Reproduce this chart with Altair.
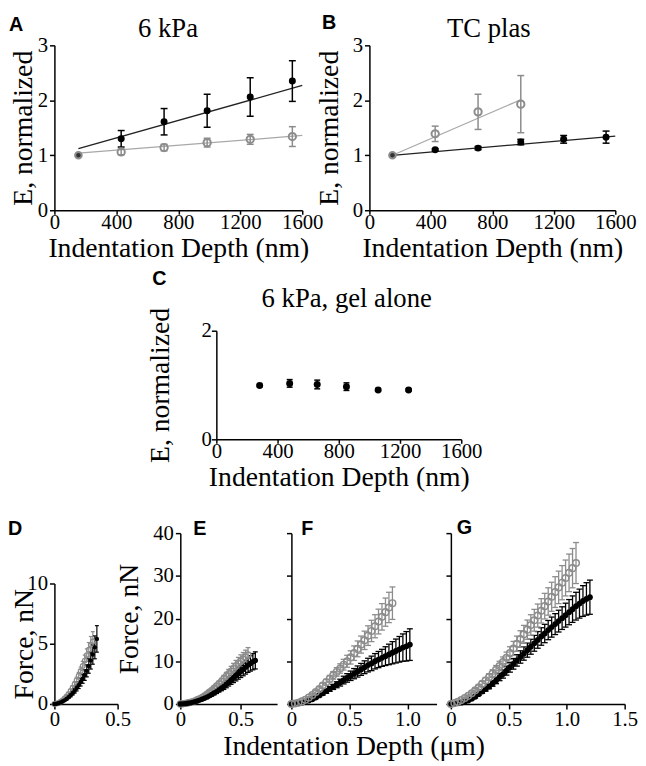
import altair as alt
import pandas as pd

SERIF = "Liberation Serif"
SANS = "Liberation Sans"
BLACK = "#000000"
GRAY = "#8c8c8c"
GRAY_LINE = "#a8a8a8"
DARK_LINE = "#222222"

# ---------------- Panel A: 6 kPa ----------------
a_depth = [431, 708, 986, 1264, 1536]
a_black = [1.30, 1.61, 1.81, 2.06, 2.35]
a_black_err = [0.15, 0.24, 0.30, 0.35, 0.37]
a_gray = [1.06, 1.14, 1.23, 1.29, 1.34]
a_gray_err = [0.05, 0.06, 0.08, 0.09, 0.18]
a_ref_depth = [155]
a_ref_E = [1.0]
a_fit_depth = [155, 1600]
a_fit_black = [1.12, 2.27]
a_fit_gray = [1.04, 1.36]

# ---------------- Panel B: TC plas ----------------
b_black_depth = [428, 707, 985, 1264, 1540]
b_black = [1.10, 1.13, 1.24, 1.29, 1.33]
b_black_err = [0.02, 0.03, 0.05, 0.07, 0.11]
b_gray_depth = [428, 707, 985]
b_gray = [1.39, 1.79, 1.93]
b_gray_err = [0.14, 0.32, 0.52]
b_ref_depth = [150]
b_ref_E = [1.0]
b_fit_black_depth = [150, 1600]
b_fit_black = [1.0, 1.35]
b_fit_gray_depth = [150, 985]
b_fit_gray = [1.0, 2.01]

# ---------------- Panel C: 6 kPa, gel alone ----------------
c_depth = [283, 479, 659, 850, 1057, 1256]
c_E = [0.99, 1.03, 1.01, 0.97, 0.91, 0.91]
c_err = [0.02, 0.07, 0.08, 0.07, 0.02, 0.02]

# ---------------- Panel D ----------------
d_black_x = [0, 0.016, 0.032, 0.048, 0.064, 0.08, 0.096, 0.112, 0.128, 0.144, 0.16,
             0.176, 0.192, 0.208, 0.224, 0.24, 0.256, 0.272, 0.288, 0.304, 0.32, 0.336]
d_black_y = [0, 0.02, 0.06, 0.12, 0.2, 0.3, 0.42, 0.56, 0.72, 0.9, 1.1, 1.32, 1.56,
             1.82, 2.1, 2.4, 2.75, 3.15, 3.6, 4.1, 4.7, 5.4]
d_black_err = [0, 0, 0, 0.02, 0.04, 0.06, 0.08, 0.1, 0.13, 0.16, 0.2, 0.24, 0.28,
               0.33, 0.38, 0.44, 0.5, 0.6, 0.7, 0.8, 0.95, 1.1]
d_gray_x = [0, 0.016, 0.032, 0.048, 0.064, 0.08, 0.096, 0.112, 0.128, 0.144, 0.16,
            0.176, 0.192, 0.208, 0.224, 0.24, 0.256, 0.272, 0.288, 0.304]
d_gray_y = [0, 0.03, 0.09, 0.18, 0.3, 0.45, 0.63, 0.84, 1.08, 1.35, 1.65, 1.98, 2.34,
            2.73, 3.15, 3.6, 4.05, 4.5, 4.9, 5.2]
d_gray_err = [0, 0, 0, 0.02, 0.04, 0.06, 0.08, 0.1, 0.13, 0.16, 0.2, 0.24, 0.28,
              0.33, 0.38, 0.45, 0.52, 0.6, 0.7, 0.8]

# ---------------- Panel E ----------------
e_gray_x = [0, 0.02, 0.04, 0.06, 0.08, 0.10, 0.12, 0.14, 0.16, 0.18, 0.20, 0.22, 0.24,
            0.26, 0.28, 0.30, 0.32, 0.34, 0.36, 0.38, 0.40, 0.42, 0.44, 0.46, 0.48,
            0.50, 0.52, 0.54, 0.56]
e_gray_y = [0, 0.05, 0.12, 0.22, 0.36, 0.53, 0.74, 0.98, 1.25, 1.55, 1.9, 2.3, 2.75,
            3.2, 3.7, 4.2, 4.75, 5.3, 5.9, 6.5, 7.1, 7.7, 8.3, 8.9, 9.5, 10.0, 10.5,
            11.0, 11.5]
e_gray_err = [0, 0, 0, 0.02, 0.04, 0.06, 0.08, 0.1, 0.15, 0.2, 0.25, 0.3, 0.35, 0.4,
              0.45, 0.5, 0.6, 0.7, 0.8, 0.9, 1.0, 1.1, 1.2, 1.3, 1.4, 1.5, 1.55, 1.6, 1.7]
e_black_x = [0, 0.02, 0.04, 0.06, 0.08, 0.10, 0.12, 0.14, 0.16, 0.18, 0.20, 0.22, 0.24,
             0.26, 0.28, 0.30, 0.32, 0.34, 0.36, 0.38, 0.40, 0.42, 0.44, 0.46, 0.48,
             0.50, 0.52, 0.54, 0.56, 0.58, 0.60, 0.62]
e_black_y = [0, 0.03, 0.08, 0.15, 0.25, 0.38, 0.53, 0.7, 0.9, 1.1, 1.35, 1.6, 1.9, 2.2,
             2.55, 2.9, 3.3, 3.7, 4.1, 4.6, 5.1, 5.6, 6.1, 6.6, 7.1, 7.6, 8.1, 8.6, 9.1,
             9.5, 9.9, 10.2]
e_black_err = [0, 0, 0, 0, 0.02, 0.04, 0.06, 0.08, 0.1, 0.15, 0.2, 0.25, 0.3, 0.35, 0.4,
               0.45, 0.5, 0.6, 0.7, 0.8, 0.9, 1.0, 1.1, 1.2, 1.3, 1.4, 1.5, 1.6, 1.7,
               1.8, 1.9, 2.0]

# ---------------- Panel F ----------------
f_gray_x = [0, 0.03, 0.06, 0.09, 0.12, 0.15, 0.18, 0.21, 0.24, 0.27, 0.30, 0.33, 0.36,
            0.39, 0.42, 0.45, 0.48, 0.51, 0.54, 0.57, 0.60, 0.63, 0.66, 0.69, 0.72,
            0.75, 0.78, 0.81, 0.84, 0.87]
f_gray_y = [0, 0.1, 0.3, 0.6, 1.0, 1.5, 2.1, 2.8, 3.5, 4.3, 5.1, 5.9, 6.7, 7.5, 8.3, 9.2,
            10.0, 10.9, 11.9, 12.9, 13.9, 14.9, 16.0, 17.1, 18.2, 19.3, 20.4, 21.5,
            22.6, 23.6]
f_gray_err = [0, 0, 0.05, 0.1, 0.15, 0.2, 0.3, 0.4, 0.5, 0.6, 0.7, 0.8, 0.9, 1.0, 1.1,
              1.25, 1.4, 1.55, 1.7, 1.85, 2.0, 2.15, 2.3, 2.5, 2.7, 2.9, 3.1, 3.3, 3.55, 3.8]
f_black_x = [0, 0.03, 0.06, 0.09, 0.12, 0.15, 0.18, 0.21, 0.24, 0.27, 0.30, 0.33, 0.36,
             0.39, 0.42, 0.45, 0.48, 0.51, 0.54, 0.57, 0.60, 0.63, 0.66, 0.69, 0.72,
             0.75, 0.78, 0.81, 0.84, 0.87, 0.90, 0.93, 0.96, 0.99, 1.02]
f_black_y = [0, 0.05, 0.15, 0.3, 0.5, 0.8, 1.1, 1.5, 2.0, 2.5, 3.0, 3.5, 4.0, 4.5, 5.0,
             5.6, 6.1, 6.6, 7.1, 7.6, 8.1, 8.6, 9.1, 9.5, 10.0, 10.4, 10.8, 11.2, 11.6,
             12.0, 12.4, 12.8, 13.2, 13.5, 13.9]
f_black_err = [0, 0, 0, 0.05, 0.1, 0.15, 0.2, 0.25, 0.3, 0.4, 0.5, 0.55, 0.6, 0.7, 0.8,
               0.9, 1.0, 1.1, 1.2, 1.3, 1.4, 1.5, 1.6, 1.7, 1.8, 1.9, 2.0, 2.2, 2.4, 2.6,
               2.8, 3.0, 3.2, 3.45, 3.7]

# ---------------- Panel G ----------------
g_gray_x = [0, 0.03, 0.06, 0.09, 0.12, 0.15, 0.18, 0.21, 0.24, 0.27, 0.30, 0.33, 0.36,
            0.39, 0.42, 0.45, 0.48, 0.51, 0.54, 0.57, 0.60, 0.63, 0.66, 0.69, 0.72,
            0.75, 0.78, 0.81, 0.84, 0.87, 0.90, 0.93, 0.96, 0.99, 1.02, 1.05, 1.08]
g_gray_y = [0.0, 0.2, 0.5, 0.9, 1.4, 1.9, 2.5, 3.2, 3.9, 4.7, 5.5, 6.3, 7.1, 8.0, 8.9,
            9.8, 10.8, 11.9, 13.0, 14.1, 15.2, 16.3, 17.4, 18.5, 19.6, 20.7, 21.8, 22.9,
            24.0, 25.1, 26.2, 27.3, 28.4, 29.5, 30.7, 31.8, 33.0]
g_gray_err = [0, 0, 0.05, 0.1, 0.15, 0.2, 0.3, 0.4, 0.5, 0.6, 0.7, 0.8, 0.9, 1.0, 1.1,
              1.2, 1.35, 1.5, 1.65, 1.8, 1.95, 2.1, 2.25, 2.4, 2.55, 2.7, 2.85, 3.0, 3.2,
              3.4, 3.6, 3.8, 4.0, 4.2, 4.4, 4.6, 4.8]
g_black_x = [0, 0.03, 0.06, 0.09, 0.12, 0.15, 0.18, 0.21, 0.24, 0.27, 0.30, 0.33, 0.36,
             0.39, 0.42, 0.45, 0.48, 0.51, 0.54, 0.57, 0.60, 0.63, 0.66, 0.69, 0.72,
             0.75, 0.78, 0.81, 0.84, 0.87, 0.90, 0.93, 0.96, 0.99, 1.02, 1.05, 1.08,
             1.11, 1.14, 1.17, 1.20]
g_black_y = [0, 0.05, 0.15, 0.3, 0.5, 0.8, 1.2, 1.7, 2.3, 2.9, 3.5, 4.1, 4.8, 5.5, 6.3,
             7.0, 7.8, 8.6, 9.4, 10.2, 11.0, 11.8, 12.6, 13.4, 14.2, 15.0, 15.8, 16.5,
             17.3, 18.0, 18.7, 19.4, 20.1, 20.8, 21.5, 22.2, 22.9, 23.5, 24.1, 24.6, 25.0]
g_black_err = [0, 0, 0, 0.05, 0.1, 0.15, 0.2, 0.25, 0.3, 0.4, 0.5, 0.55, 0.65, 0.75,
               0.85, 0.95, 1.05, 1.15, 1.25, 1.35, 1.45, 1.55, 1.65, 1.75, 1.85, 1.95,
               2.05, 2.15, 2.25, 2.35, 2.45, 2.55, 2.65, 2.8, 2.95, 3.1, 3.25, 3.4, 3.6,
               3.8, 4.0]

# ---------------- tick values / labels ----------------
nm_ticks = [0, 400, 800, 1200, 1600]
um_fmt = "datum.value == 0 ? '0' : format(datum.value, '.1f')"


def P(xdom, xvals, xtitle, ydom, yvals, ytitle, xrange=None, yrange=None,
      xextra=None, yextra=None):
    xkw = dict(domain=xdom, nice=False, zero=False)
    if xrange is not None:
        xkw["range"] = xrange
    ykw = dict(domain=ydom, nice=False, zero=False)
    if yrange is not None:
        ykw["range"] = yrange
    xa = dict(values=xvals, title=xtitle)
    xa.update(xextra or {})
    ya = dict(values=yvals, title=ytitle)
    ya.update(yextra or {})
    return dict(xs=alt.Scale(**xkw), xa=alt.Axis(**xa), ys=alt.Scale(**ykw), ya=alt.Axis(**ya))


def X(p, f="x"):
    return alt.X(f + ":Q", scale=p["xs"], axis=p["xa"])


def Y(p, f="y"):
    return alt.Y(f + ":Q", scale=p["ys"], axis=p["ya"])


def series(p, xv, yv, ev, color, filled, size, cap, sw=1.5, msw=2.0):
    df = pd.DataFrame({"x": xv, "y": yv, "e": ev})
    df["lo"] = df["y"] - df["e"]
    df["hi"] = df["y"] + df["e"]
    base = alt.Chart(df)
    bar = base.mark_rule(color=color, strokeWidth=sw).encode(x=X(p), y=Y(p, "lo"), y2="hi:Q")
    caps = base.transform_fold(["lo", "hi"], as_=["k", "v"]).mark_tick(
        orient="horizontal", size=cap, thickness=sw, color=color, opacity=1
    ).encode(x=X(p), y=Y(p, "v"))
    if filled:
        pt = base.mark_point(filled=True, color=color, size=size, opacity=1)
    else:
        pt = base.mark_point(filled=False, color=color, size=size, strokeWidth=msw, opacity=1)
    pt = pt.encode(x=X(p), y=Y(p))
    return [bar, caps], pt


def fit(p, xv, yv, color, sw=1.3):
    df = pd.DataFrame({"x": xv, "y": yv})
    return alt.Chart(df).mark_line(color=color, strokeWidth=sw).encode(x=X(p), y=Y(p))


def dots(p, xv, yv, color, filled, size, msw=2.0):
    df = pd.DataFrame({"x": xv, "y": yv})
    if filled:
        m = alt.Chart(df).mark_point(filled=True, color=color, size=size, opacity=1)
    else:
        m = alt.Chart(df).mark_point(filled=False, color=color, size=size, strokeWidth=msw, opacity=1)
    return m.encode(x=X(p), y=Y(p))


def letter(ch, dx, dy):
    return alt.Chart(pd.DataFrame({"t": [ch]})).mark_text(
        text=ch, align="left", baseline="top", font=SANS, fontWeight="bold",
        fontSize=20, color=BLACK
    ).encode(x=alt.value(dx), y=alt.value(dy))


def ptitle(txt, cx, by):
    return alt.Chart(pd.DataFrame({"t": [txt]})).mark_text(
        text=txt, align="center", baseline="alphabetic", font=SERIF, fontSize=27,
        color=BLACK
    ).encode(x=alt.value(cx), y=alt.value(by))


nm_x = dict(format="d", labelPadding=-3, tickSize=4)

# ---------------- build A ----------------
pA = P([0, 1600], nm_ticks, "Indentation Depth (nm)", [0, 3], [0, 1, 2, 3], "E, normalized",
       xextra=nm_x, yextra=dict(format="d", titleX=-17))
ebA1, ptA1 = series(pA, a_depth, a_gray, a_gray_err, GRAY, False, 55, 7)
ebA2, ptA2 = series(pA, a_depth, a_black, a_black_err, BLACK, True, 50, 7)
A = alt.layer(
    fit(pA, a_fit_depth, a_fit_gray, GRAY_LINE), fit(pA, a_fit_depth, a_fit_black, DARK_LINE),
    *ebA1, *ebA2, ptA1, ptA2,
    dots(pA, a_ref_depth, a_ref_E, "#333333", True, 30),
    dots(pA, a_ref_depth, a_ref_E, GRAY, False, 45),
    letter("A", -46, -31), ptitle("6 kPa", 115, -8),
).properties(width=251, height=167)

# ---------------- build B ----------------
pB = P([0, 1600], nm_ticks, "Indentation Depth (nm)", [0, 3], [0, 1, 2, 3], "E, normalized",
       xextra=nm_x, yextra=dict(format="d", titleX=-26))
ebB1, ptB1 = series(pB, b_gray_depth, b_gray, b_gray_err, GRAY, False, 55, 7)
ebB2, ptB2 = series(pB, b_black_depth, b_black, b_black_err, BLACK, True, 50, 7)
B = alt.layer(
    fit(pB, b_fit_gray_depth, b_fit_gray, GRAY_LINE), fit(pB, b_fit_black_depth, b_fit_black, DARK_LINE),
    *ebB1, *ebB2, ptB1, ptB2,
    dots(pB, b_ref_depth, b_ref_E, "#333333", True, 30),
    dots(pB, b_ref_depth, b_ref_E, GRAY, False, 45),
    letter("B", -48, -33), ptitle("TC plas", 121, -8),
).properties(width=249, height=167)

# ---------------- build C ----------------
pC = P([0, 1600], nm_ticks, "Indentation Depth (nm)", [0, 2], [0, 1, 2], "E, normalized",
       xextra=nm_x, yextra=dict(format="d", titleX=-42, labelPadding=0))
ebC, ptC = series(pC, c_depth, c_E, c_err, BLACK, True, 50, 6)
C = alt.layer(*ebC, ptC, letter("C", -65, -62), ptitle("6 kPa, gel alone", 132, -24)).properties(
    width=248, height=110)

spacer = alt.Chart(pd.DataFrame({"t": [0]})).mark_point(opacity=0, size=1).encode(
    x=alt.value(0), y=alt.value(0)).properties(width=164, height=5)

# ---------------- build D-G ----------------
um_x = dict(labelExpr=um_fmt, labelPadding=0)
pD = P([0, 0.5], [0, 0.5], "", [0, 10], [0, 5, 10], "Force, nN",
       xrange=[0, 64], yrange=[173, 51], xextra=um_x, yextra=dict(titleX=-16))
ebD1, ptD1 = series(pD, d_gray_x, d_gray_y, d_gray_err, GRAY, False, 22, 4, sw=1.2, msw=1.3)
ebD2, ptD2 = series(pD, d_black_x, d_black_y, d_black_err, BLACK, True, 20, 4, sw=1.2)
D = alt.layer(*ebD1, *ebD2, ptD1, ptD2, letter("D", -47, -14)).properties(width=112.5, height=173)

pE = P([0, 0.8], [0, 0.5], "", [0, 40], [0, 10, 20, 30, 40], "Force, nN",
       xextra=um_x, yextra=dict(titleX=-37))
ebE1, ptE1 = series(pE, e_gray_x, e_gray_y, e_gray_err, GRAY, False, 35, 5, sw=1.3, msw=1.5)
ebE2, ptE2 = series(pE, e_black_x, e_black_y, e_black_err, BLACK, True, 30, 5, sw=1.3)
E = alt.layer(*ebE1, *ebE2, ptE1, ptE2, letter("E", 13, -14)).properties(width=98, height=173)

pF = P([0, 1.25], [0, 0.5, 1.0], "Indentation Depth (\u03bcm)", [0, 40], [0, 10, 20, 30, 40], "",
       xextra=dict(labelExpr=um_fmt, labelPadding=0, titleX=63), yextra=dict(labels=False))
ebF2, ptF2 = series(pF, f_black_x, f_black_y, f_black_err, BLACK, True, 35, 6, sw=1.3)
ebF1, ptF1 = series(pF, f_gray_x, f_gray_y, f_gray_err, GRAY, False, 45, 6, sw=1.3, msw=1.5)
F = alt.layer(*ebF2, *ebF1, ptF2, ptF1, letter("F", 10, -14)).properties(width=147, height=173)

pG = P([0, 1.5], [0, 0.5, 1.0, 1.5], "", [0, 40], [0, 10, 20, 30, 40], "",
       xextra=um_x, yextra=dict(labels=False))
ebG2, ptG2 = series(pG, g_black_x, g_black_y, g_black_err, BLACK, True, 35, 6, sw=1.3)
ebG1, ptG1 = series(pG, g_gray_x, g_gray_y, g_gray_err, GRAY, False, 45, 6, sw=1.3, msw=1.5)
G = alt.layer(*ebG2, *ebG1, ptG2, ptG1, letter("G", 6, -15)).properties(width=176, height=173)

row1 = alt.hconcat(A, B, spacing=68, bounds="flush")
row2 = alt.hconcat(spacer, C, spacing=0, bounds="flush")
row3 = alt.hconcat(D, E, F, G, spacing=14.5, bounds="flush")
top = alt.vconcat(row1, row2, spacing=7)

chart = alt.vconcat(top, row3, spacing=27).properties(
    padding={"left": 0, "top": 0, "right": 0, "bottom": 0}
).configure_view(stroke=None).configure_axis(
    domainColor=BLACK, tickColor=BLACK, labelColor=BLACK, titleColor=BLACK,
    grid=False, labelFont=SERIF, titleFont=SERIF, labelFontSize=21, titleFontSize=28,
    titleFontWeight="normal", tickSize=5, domainWidth=1.5, tickWidth=1.5,
    labelFlush=False, labelOverlap=False, labelPadding=2, titlePadding=3,
)

chart.save("out.html", embed_options={"renderer": "svg", "actions": False})
